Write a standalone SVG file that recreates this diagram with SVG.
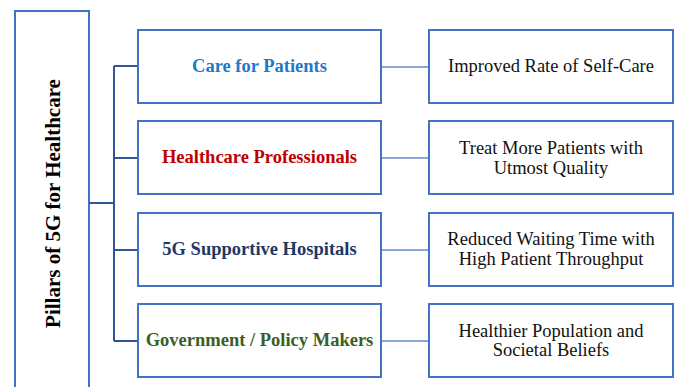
<svg xmlns="http://www.w3.org/2000/svg" width="678" height="387" viewBox="0 0 678 387">
<style>
.box{fill:#fff;stroke:#4472C4;stroke-width:2}
.br{fill:none;stroke:#2F5597;stroke-width:2}
.cn{fill:none;stroke:#6A8BD0;stroke-width:1.6}
.mid{font-family:"Liberation Serif","Times New Roman",serif;font-weight:bold;font-size:18.5px;text-anchor:middle}
.rt{font-family:"Liberation Serif","Times New Roman",serif;font-size:18.5px;text-anchor:middle;fill:#111}
</style>
<rect width="678" height="387" fill="#fff"/>
<g id="title">
<rect class="box" x="15" y="11" width="74" height="392"/>
<text x="59.5" y="203.5" transform="rotate(-90 59.5 203.5)" font-family="'Liberation Serif','Times New Roman',serif" font-weight="bold" font-size="21px" text-anchor="middle" fill="#000">Pillars of 5G for Healthcare</text>
</g>
<g id="connectors">
<path class="br" d="M89 203H114M114 66V341M114 66H138M114 158H138M114 250H138M114 341H138"/>
<path class="cn" d="M381 67H429M381 158H429M381 250H429M381 341H429"/>
</g>
<g id="care">
<rect class="box" x="138" y="30" width="243" height="73"/>
<text class="mid" x="259.5" y="72" fill="#1F78C8">Care for Patients</text>
</g>
<g id="professionals">
<rect class="box" x="138" y="121" width="243" height="73"/>
<text class="mid" x="259.5" y="163" fill="#C00000">Healthcare Professionals</text>
</g>
<g id="hospitals">
<rect class="box" x="138" y="213" width="243" height="73"/>
<text class="mid" x="259.5" y="254.5" fill="#1F3864">5G Supportive Hospitals</text>
</g>
<g id="government">
<rect class="box" x="138" y="304" width="243" height="73"/>
<text class="mid" x="259.5" y="346" fill="#3A5F24">Government / Policy Makers</text>
</g>
<g id="selfcare">
<rect class="box" x="429" y="30" width="244" height="73"/>
<text class="rt" x="551" y="72">Improved Rate of Self-Care</text>
</g>
<g id="quality">
<rect class="box" x="429" y="121" width="244" height="73"/>
<text class="rt" x="551" y="153.5">Treat More Patients with</text>
<text class="rt" x="551" y="173.5">Utmost Quality</text>
</g>
<g id="waiting">
<rect class="box" x="429" y="213" width="244" height="73"/>
<text class="rt" x="551" y="245">Reduced Waiting Time with</text>
<text class="rt" x="551" y="264.5">High Patient Throughput</text>
</g>
<g id="population">
<rect class="box" x="429" y="304" width="244" height="73"/>
<text class="rt" x="551" y="336.5">Healthier Population and</text>
<text class="rt" x="551" y="356">Societal Beliefs</text>
</g>
</svg>
